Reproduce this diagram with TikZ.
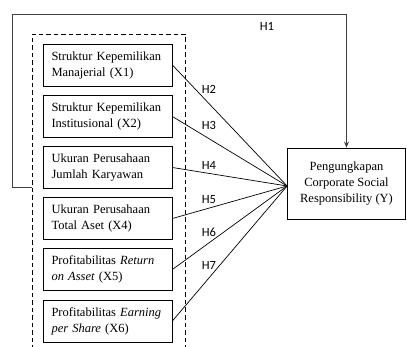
\documentclass[tikz,border=0pt]{standalone}
\usepackage{fontspec}
\setmainfont{Liberation Serif}
\newfontfamily\tfont{Liberation Serif}
\newfontfamily\hfont{Carlito}
\usetikzlibrary{arrows.meta,calc}
\begin{document}
\begin{tikzpicture}[x=1pt,y=-1pt,
  varbox/.style={draw,line width=0.8pt,minimum width=129pt,minimum height=42pt,
    text width=112pt,align=left,inner xsep=8.5pt,inner ysep=0pt,
    font=\tfont\fontsize{12.5}{16}\selectfont},
  ybox/.style={draw,line width=0.8pt,minimum width=118pt,minimum height=71pt,
    align=center,inner sep=0pt,font=\tfont\fontsize{12.5}{16}\selectfont},
  hlab/.style={font=\hfont\fontsize{12.5}{15}\selectfont,inner sep=0pt},
  conn/.style={line width=0.7pt}]
\useasboundingbox (0,0) rectangle (407,347);
% dashed group (open at bottom)
\draw[line width=0.8pt,dash pattern=on 4.5pt off 3pt] (32,350) -- (32,34) -- (185,34) -- (185,350);
% variable boxes
\node[varbox] (x1) at (107.5,65) {Struktur Kepemilikan\\Manajerial (X1)};
\node[varbox] (x2) at (107.5,116.5) {Struktur Kepemilikan\\Institusional (X2)};
\node[varbox] (x3) at (107.5,167.5) {Ukuran Perusahaan\\Jumlah Karyawan};
\node[varbox] (x4) at (107.5,218.5) {Ukuran Perusahaan\\Total Aset (X4)};
\node[varbox] (x5) at (107.5,269.5) {Profitabilitas \textit{Return}\\\textit{on Asset} (X5)};
\node[varbox] (x6) at (107.5,321) {Profitabilitas \textit{Earning}\\\textit{per Share} (X6)};
% dependent box
\node[ybox] (y) at (346.5,183.5) {Pengungkapan\\Corporate Social\\Responsibility (Y)};
\coordinate (c) at ($(y.west)+(0,2.5)$);
% connectors
\foreach \n in {x1,x2,x3,x4,x5,x6} \draw[conn] (\n.east) -- (c);
% H1 loop
\coordinate (s) at (32,187);
\draw[line width=0.8pt,draw=black!75,-{Stealth[length=6pt,width=5pt]}]
  (s) -- (12,187) -- (12,14) -- (y.north |- 0,14) -- (y.north);
% labels
\node[hlab] (h1) at (267,26) {H1};
\node[hlab] (h2) at (209,89) {H2};
\node[hlab] (h3) at (209,125) {H3};
\node[hlab] (h4) at (209,165) {H4};
\node[hlab] (h5) at (209,200) {H5};
\node[hlab] (h6) at (209,232) {H6};
\node[hlab] (h7) at (209,265) {H7};
\end{tikzpicture}
\end{document}
